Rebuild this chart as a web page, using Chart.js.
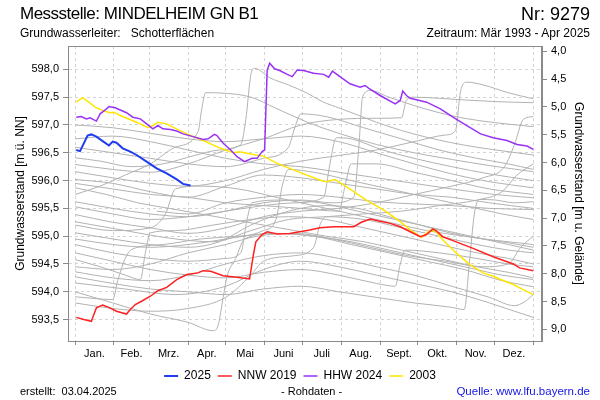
<!DOCTYPE html>
<html><head><meta charset="utf-8">
<script src="https://cdn.jsdelivr.net/npm/chart.js@4.4.1/dist/chart.umd.min.js"></script>
<style>
body{margin:0;background:#fff;}
#wrap{position:relative;width:600px;height:400px;font-family:"Liberation Sans",Arial,sans-serif;color:#000;}
#wrap canvas{position:absolute;left:0;top:0;}
.t{position:absolute;white-space:nowrap;line-height:1;}
</style></head><body>
<div id="wrap">
<canvas id="c" width="600" height="400"></canvas>
<div class="t" style="left:20px;top:5px;font-size:17px;letter-spacing:-0.5px;">Messstelle: MINDELHEIM GN B1</div>
<div class="t" style="right:10px;top:5px;font-size:18px;">Nr: 9279</div>
<div class="t" style="left:20px;top:27px;font-size:12px;">Grundwasserleiter:&nbsp;&nbsp; Schotterflächen</div>
<div class="t" style="right:10px;top:27px;font-size:12px;">Zeitraum: Mär 1993 - Apr 2025</div>
<div class="t" style="left:20px;top:386px;font-size:11px;">erstellt:&nbsp; 03.04.2025</div>
<div class="t" style="left:281px;top:386px;font-size:11px;">- Rohdaten -</div>
<div class="t" style="right:10px;top:386px;font-size:11.5px;color:#1515e6;">Quelle: www.lfu.bayern.de</div>
</div>
<script>
// ---- axes / categories ----
const monthStarts = [0,31,59,90,120,151,181,212,243,273,304,334,365];
const monthNames = ['Jan.','Feb.','Mrz.','Apr.','Mai','Juni','Juli','Aug.','Sept.','Okt.','Nov.','Dez.'];
const leftTicks = [593.5,594.0,594.5,595.0,595.5,596.0,596.5,597.0,597.5,598.0];
const rightTicks = [4.0,4.5,5.0,5.5,6.0,6.5,7.0,7.5,8.0,8.5,9.0];
const groundLevel = 602.324;
const leftMin = 593.115, leftMax = 598.42;

// ---- highlighted series (day of year, m ü. NN) ----
const blueDays = [1,4,10,13,17,22,27,30,33,38,44,49,57,65,73,81,86,92];
const blueVals = [596.55,596.53,596.81,596.83,596.79,596.71,596.63,596.70,596.68,596.58,596.52,596.46,596.34,596.22,596.13,596.02,595.94,595.91];

const redDays = [1,7,13,15,17,22,27,33,41,44,48,53,60,66,73,81,89,98,102,108,118,129,139,142,144,149,153,161,171,179,187,195,206,214,222,228,235,243,251,259,267,275,280,285,288,293,301,317,333,349,354,365];
const redVals = [593.54,593.50,593.47,593.59,593.71,593.76,593.72,593.65,593.60,593.68,593.77,593.83,593.92,594.02,594.08,594.22,594.31,594.34,594.38,594.37,594.29,594.26,594.23,594.66,594.90,595.03,595.08,595.04,595.05,595.08,595.11,595.15,595.17,595.17,595.17,595.25,595.31,595.27,595.23,595.17,595.08,594.99,595.03,595.13,595.09,594.99,594.92,594.78,594.63,594.50,594.43,594.38];

const purpleDays = [1,5,9,12,17,20,24,27,32,36,41,46,52,57,62,66,70,76,81,86,94,102,106,111,113,118,124,129,135,141,145,149,151,153,155,159,163,169,173,177,182,190,198,202,205,211,219,227,231,234,243,255,259,261,264,267,280,291,301,312,323,333,344,352,360,365];
const purpleVals = [597.14,597.15,597.11,597.13,597.07,597.20,597.27,597.33,597.31,597.27,597.22,597.14,597.11,597.02,596.93,596.99,596.93,596.92,596.89,596.84,596.79,596.74,596.75,596.83,596.81,596.67,596.55,596.43,596.34,596.40,596.40,596.52,596.55,597.98,598.11,598.01,597.98,597.91,597.87,597.99,597.98,597.93,597.91,597.86,597.97,597.87,597.74,597.68,597.71,597.66,597.53,597.38,597.44,597.61,597.53,597.48,597.41,597.29,597.14,596.99,596.84,596.77,596.72,596.65,596.62,596.56];

const yellowDays = [1,6,11,16,23,28,31,36,49,58,62,66,73,78,89,102,116,126,131,142,150,161,171,181,195,200,207,216,232,246,259,269,276,280,283,287,293,304,315,325,333,339,349,357,365];
const yellowVals = [597.41,597.49,597.41,597.32,597.25,597.22,597.23,597.17,597.05,596.95,596.99,597.05,597.02,596.96,596.84,596.72,596.58,596.50,596.52,596.47,596.44,596.31,596.22,596.13,596.01,595.98,596.02,595.89,595.65,595.47,595.26,595.08,594.98,595.05,595.11,595.09,594.93,594.69,594.48,594.34,594.28,594.22,594.13,594.04,593.95];

// ---- other years (grey) [day, m ü. NN] ----
const gray01 = [[0,596.41],[20,596.35],[45,596.25],[70,596.3],[95,596.45],[115,596.55],[132,596.65],[136,597.1],[140,597.9],[143,598.02],[155,597.85],[170,597.72],[185,597.57],[197,597.42],[211,597.3],[225,597.18],[240,597.05],[260,596.9],[280,596.78],[300,596.68],[320,596.6],[345,596.52],[365,596.46]];
const gray02 = [[0,595.75],[20,595.9],[40,596.1],[60,596.3],[80,596.6],[98,596.88],[101,597.3],[104,597.58],[120,597.57],[140,597.5],[160,597.3],[185,597.05],[210,596.85],[240,596.65],[270,596.5],[300,596.38],[330,596.27],[365,596.16]];
const gray03 = [[0,595.62],[30,595.5],[60,595.4],[90,595.35],[120,595.45],[150,595.6],[180,595.65],[205,595.6],[222,595.7],[226,596.6],[229,597.5],[235,597.62],[250,597.5],[270,597.35],[290,597.22],[310,597.12],[335,597.04],[365,596.97]];
const gray04 = [[0,596.29],[30,596.2],[60,596.15],[90,596.3],[120,596.55],[150,596.75],[180,597.0],[210,597.1],[240,597.12],[260,597.13],[264,597.45],[270,597.5],[290,597.48],[310,597.45],[335,597.42],[365,597.4]];
const gray05 = [[0,596.16],[30,596.05],[60,595.95],[90,595.9],[120,596.0],[150,596.2],[180,596.35],[210,596.45],[240,596.55],[270,596.7],[295,596.82],[303,596.9],[307,597.6],[312,597.77],[325,597.72],[345,597.58],[365,597.47]];
const gray06 = [[0,595.53],[30,595.4],[60,595.3],[90,595.35],[120,595.45],[150,595.55],[175,595.6],[198,595.7],[203,596.3],[208,596.77],[220,596.75],[245,596.55],[270,596.4],[300,596.25],[330,596.12],[365,596.0]];
const gray07 = [[0,596.02],[30,595.95],[60,595.8],[90,595.7],[120,595.9],[150,596.1],[180,596.05],[210,595.95],[240,595.85],[270,595.75],[300,595.7],[330,595.6],[365,595.5]];
const gray08 = [[0,595.87],[25,595.75],[50,595.6],[75,595.5],[100,595.4],[125,595.3],[150,595.2],[175,595.1],[200,595.0],[230,594.9],[260,594.75],[290,594.6],[320,594.45],[345,594.35],[365,594.25]];
const gray09 = [[0,595.39],[30,595.25],[60,595.15],[90,595.05],[120,595.15],[150,595.35],[180,595.45],[210,595.5],[240,595.6],[270,595.75],[300,595.9],[325,596.05],[342,596.25],[350,596.65],[357,597.1],[365,597.15]];
const gray10 = [[0,595.26],[40,595.1],[80,594.95],[110,594.9],[140,595.1],[170,595.3],[200,595.35],[230,595.4],[260,595.45],[290,595.55],[320,595.65],[340,595.8],[352,596.1],[365,596.3]];
const gray11 = [[0,594.58],[20,594.45],[40,594.3],[52,594.22],[56,594.7],[60,595.06],[80,595.1],[110,595.2],[140,595.3],[170,595.35],[200,595.3],[230,595.15],[260,595.0],[290,594.85],[320,594.7],[345,594.6],[365,594.5]];
const gray12 = [[0,593.91],[15,593.88],[30,593.86],[34,594.2],[40,594.6],[45,594.76],[70,594.85],[100,594.95],[130,595.0],[160,595.05],[190,595.0],[220,594.9],[250,594.75],[280,594.6],[310,594.45],[340,594.3],[365,594.22]];
const gray13 = [[0,594.0],[30,593.8],[60,593.6],[90,593.45],[110,593.3],[114,593.4],[118,593.9],[121,594.27],[128,594.6],[135,594.95],[160,595.05],[190,595.0],[220,594.85],[250,594.7],[280,594.55],[310,594.4],[340,594.2],[365,594.09]];
const gray14 = [[0,594.27],[30,594.15],[60,594.05],[90,594.0],[120,593.95],[150,594.05],[180,594.1],[210,594.0],[240,593.9],[270,593.8],[300,593.72],[310,593.68],[314,594.5],[318,595.4],[322,595.66],[335,595.65],[350,595.6],[365,595.62]];
const gray15 = [[0,594.16],[40,594.05],[80,593.95],[120,594.1],[150,594.4],[180,594.55],[210,594.45],[240,594.3],[270,594.15],[300,594.0],[330,593.8],[350,593.65],[365,593.54]];
const gray16 = [[0,594.36],[30,594.25],[60,594.2],[90,594.3],[120,594.5],[150,594.65],[180,594.7],[210,594.6],[240,594.45],[270,594.3],[300,594.1],[330,593.9],[350,593.75],[358,593.82],[365,593.95]];
const gray17 = [[0,594.45],[30,594.4],[60,594.5],[90,594.7],[120,594.85],[145,595.0],[175,595.05],[205,594.95],[235,594.8],[265,594.65],[295,594.55],[325,594.45],[345,594.5],[355,594.8],[365,595.0]];
const gray18 = [[0,594.85],[30,594.7],[60,594.6],[90,594.55],[120,594.6],[132,594.7],[137,595.3],[141,595.6],[165,595.65],[195,595.6],[225,595.45],[255,595.3],[285,595.15],[315,595.0],[345,594.85],[365,594.75]];
const gray19 = [[0,595.06],[30,594.95],[60,594.85],[90,594.8],[115,594.9],[140,595.2],[170,595.45],[200,595.55],[225,595.5],[250,595.35],[275,595.2],[300,595.05],[325,594.95],[345,594.9],[365,594.85]];
const gray20 = [[65,595.45],[90,595.4],[120,595.6],[150,595.7],[180,595.75],[210,595.7],[240,595.62],[270,595.58],[300,595.55],[330,595.5],[365,595.48]];
const gray21 = [[0,597.0],[30,596.95],[60,596.85],[90,596.75],[120,596.7],[150,596.75],[180,596.8],[210,596.7],[240,596.5],[270,596.3],[300,596.12],[330,595.98],[365,595.87]];
const gray22 = [[0,596.75],[30,596.8],[60,596.7],[90,596.55],[120,596.4],[150,596.3],[180,596.25],[210,596.15],[240,596.05],[270,595.95],[300,595.85],[330,595.76],[365,595.69]];
const gray23 = [[0,594.7],[30,594.55],[60,594.4],[90,594.3],[120,594.25],[150,594.35],[180,594.4],[210,594.3],[240,594.15],[255,594.1],[259,594.5],[263,594.75],[290,594.7],[320,594.6],[345,594.5],[365,594.45]];
const gray24 = [[0,595.2],[30,595.1],[60,595.15],[72,595.4],[80,595.85],[100,595.9],[130,595.85],[160,595.7],[190,595.55],[220,595.4],[250,595.25],[280,595.1],[310,595.0],[340,594.9],[365,594.8]];
const gray25 = [[0,594.95],[30,594.85],[60,594.8],[90,594.85],[120,594.95],[150,595.1],[160,595.3],[165,595.9],[170,596.2],[190,596.15],[220,596.0],[250,595.85],[280,595.7],[310,595.55],[340,595.4],[365,595.3]];
const gray26 = [[0,595.95],[30,595.85],[60,595.75],[90,595.7],[120,595.6],[150,595.55],[180,595.5],[210,595.45],[215,595.9],[220,596.3],[240,596.3],[270,596.15],[300,596.0],[330,595.85],[365,595.75]];
const gray27 = [[0,593.8],[30,593.7],[60,593.65],[90,593.7],[120,593.9],[140,594.3],[150,594.55],[175,594.65],[190,594.8],[195,595.2],[200,595.35],[230,595.3],[260,595.15],[290,595.0],[320,594.85],[345,594.75],[365,594.7]];
const gray28 = [[0,596.6],[30,596.5],[60,596.4],[90,596.3],[120,596.25],[150,596.4],[170,596.6],[175,596.95],[180,597.2],[200,597.15],[230,596.95],[260,596.75],[290,596.55],[320,596.4],[345,596.3],[365,596.2]];

const grayLines = [gray01,gray02,gray03,gray04,gray05,gray06,gray07,gray08,gray09,gray10,gray11,gray12,gray13,gray14,
  gray15,gray16,gray17,gray18,gray19,gray20,gray21,gray22,gray23,gray24,gray25,gray26,gray27,gray28];

// ---- build ----
const xy = (d, v) => d.map((x, i) => ({x: x, y: v[i]}));
const main = (label, d, v, color, w) => ({label, data: xy(d, v), borderColor: color, backgroundColor: color,
  borderWidth: w, pointRadius: 0, tension: 0, fill: false, yAxisID: 'y'});
const datasets = [
  main('2025', blueDays, blueVals, '#1f3cf0', 2),
  main('NNW 2019', redDays, redVals, '#ff2020', 1.5),
  main('HHW 2024', purpleDays, purpleVals, '#9a32f5', 1.5),
  main('2003', yellowDays, yellowVals, '#ffe600', 1.5)
];
grayLines.forEach(g => datasets.push({label: '', data: g.map(p => ({x: p[0], y: p[1]})),
  borderColor: '#b2b2b2', borderWidth: 1, pointRadius: 0, cubicInterpolationMode: 'monotone', fill: false, yAxisID: 'y'}));

const xTickVals = [];
monthStarts.forEach((m, i) => { xTickVals.push(m); if (i < 12) xTickVals.push((m + monthStarts[i+1]) / 2); });
const fmt = v => v.toFixed(1).replace('.', ',');
const gridCol = '#d4d4d4', axisCol = '#8a8a8a';
const FONT = '"Liberation Sans", Arial, sans-serif';

const frame = { id: 'frame', afterDatasetsDraw(chart) {
  const a = chart.chartArea, c = chart.ctx;
  c.save(); c.strokeStyle = axisCol; c.lineWidth = 1;
  c.strokeRect(Math.round(a.left) + 0.5, Math.round(a.top) + 0.5, Math.round(a.right - a.left) - 1, Math.round(a.bottom - a.top));
  c.restore();
}};

new Chart(document.getElementById('c'), {
  type: 'line',
  data: { datasets },
  plugins: [frame],
  options: {
    responsive: false, animation: false, devicePixelRatio: 1,
    events: [],
    layout: { padding: { top: 46, bottom: 8, left: 0, right: 0 } },
    plugins: {
      tooltip: { enabled: false },
      legend: { position: 'bottom',
        labels: { filter: it => it.datasetIndex < 4, usePointStyle: true, pointStyle: 'line', pointStyleWidth: 14,
          padding: 7, color: '#000', font: { family: FONT, size: 12 } } }
    },
    scales: {
      x: { type: 'linear', min: -5.6, max: 371.9,
        afterBuildTicks: s => { s.ticks = xTickVals.map(v => ({value: v})); },
        afterFit: s => { s.height = 22; },
        grid: { color: c => c.index % 2 === 0 ? gridCol : 'rgba(0,0,0,0)', tickColor: c => c.index % 2 === 0 ? axisCol : 'rgba(0,0,0,0)',
          tickLength: 4, tickBorderDash: [1, 0] },
        border: { color: axisCol, dash: [3, 3] },
        ticks: { autoSkip: false, maxRotation: 0, padding: 2, color: '#000', font: { family: FONT, size: 11 },
          callback: (v, i) => i % 2 === 1 ? monthNames[(i - 1) / 2] : '' } },
      y: { type: 'linear', position: 'left', min: leftMin, max: leftMax,
        afterBuildTicks: s => { s.ticks = leftTicks.map(v => ({value: v})); },
        afterFit: s => { s.width = 68; },
        grid: { color: gridCol, tickColor: axisCol, tickLength: 5, tickBorderDash: [1, 0] },
        border: { color: axisCol, dash: [3, 3] },
        ticks: { padding: 4, color: '#000', font: { family: FONT, size: 11 }, callback: v => fmt(v) },
        title: { display: true, text: 'Grundwasserstand [m ü. NN]', color: '#000', padding: { top: 13, bottom: 0 },
          font: { family: FONT, size: 12 } } },
      y2: { type: 'linear', position: 'right', reverse: true, min: groundLevel - leftMax, max: groundLevel - leftMin,
        afterBuildTicks: s => { s.ticks = rightTicks.map(v => ({value: v})); },
        afterFit: s => { s.width = 58; },
        grid: { drawOnChartArea: false, tickColor: axisCol, tickLength: 5, tickBorderDash: [1, 0] },
        border: { color: axisCol },
        ticks: { padding: 4, color: '#000', font: { family: FONT, size: 11 }, callback: v => fmt(v) },
        title: { display: true, text: 'Grundwasserstand [m u. Gelände]', color: '#000', padding: { top: 14, bottom: 0 },
          font: { family: FONT, size: 12 } } }
    }
  }
});
</script>
</body></html>
